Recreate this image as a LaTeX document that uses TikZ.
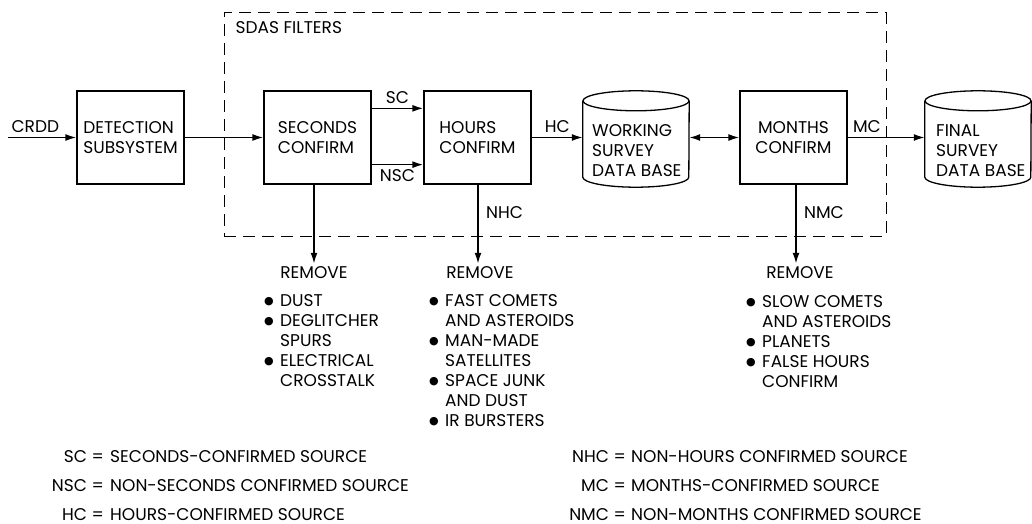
\documentclass[tikz,border=0pt]{standalone}
\usepackage{fontspec}
\setmainfont{Poppins}
\newfontfamily\symfont{DejaVu Sans}
\usetikzlibrary{arrows.meta, positioning}

\newcommand\lstbul{\makebox[16pt][l]{\raisebox{1.5pt}{\symfont\fontsize{11}{20}\selectfont ●}}}
\newcommand\lstind{\hspace*{16pt}}

\tikzset{
  blk/.style={draw, line width=1.3pt, minimum width=107pt, minimum height=93pt,
    align=left, inner sep=0pt},
  drum/.style={minimum width=106pt, minimum height=96pt, inner sep=0pt},
  frame/.style={draw, line width=1pt, dash pattern=on 12pt off 7pt,
    minimum width=662pt, minimum height=223pt},
  flow/.style={line width=1.6pt, -{Latex[length=11pt,width=7pt]}},
  flowboth/.style={line width=1.6pt, {Latex[length=11pt,width=7pt]}-{Latex[length=11pt,width=7pt]}},
  lbl/.style={inner sep=0pt},
  lst/.style={inner sep=0pt, align=left, anchor=north west},
}

\begin{document}
\begin{tikzpicture}[x=1pt, y=-1pt, every node/.style={font=\fontsize{17}{20}\selectfont}]
    \useasboundingbox (0,0) rectangle (1032,524);

    % filter frame
    \node[frame] (sdas) at (555,124.5) {};
    \node[lbl, anchor=north west] at ([xshift=12pt,yshift=-9pt]sdas.north west) {SDAS FILTERS};

    % blocks
    \node[blk] (det) at (130.5,137.5) {DETECTION\\SUBSYSTEM};
    \node[blk] (sec) at (317.5,137.5) {SECONDS\\CONFIRM};
    \node[blk] (hrs) at (477.5,137.5) {HOURS\\CONFIRM};
    \node[blk, align=center] (mon) at (793.5,137.5) {MONTHS\\CONFIRM};

    % data bases
    \node[drum] (wdb) at (636,139) {};
    \node[drum] (fdb) at (978,139) {};
    \foreach \db in {wdb,fdb} {
        \draw[line width=1.3pt] ([yshift=-10pt]\db.north) ellipse [x radius=53pt, y radius=10pt];
        \draw[line width=1.3pt] ([yshift=-10pt]\db.north west) -- ([yshift=10pt]\db.south west)
            arc[start angle=180, end angle=360, x radius=53pt, y radius=10pt]
            -- ([yshift=-10pt]\db.north east);
    }
    \node[lst, anchor=west] at (592,151) {WORKING\\SURVEY\\DATA BASE};
    \node[lst, anchor=west] at (936,151) {FINAL\\SURVEY\\DATA BASE};

    % main flow
    \coordinate (crdd) at (8,137.5);
    \draw[flow] (crdd) -- (det) node[pos=0.4, above=1pt] {CRDD};
    \draw[flow] (det) -- (sec);
    \draw[flow] ([yshift=-18pt]sec.north east) -- ([yshift=-18pt]hrs.north west) node[midway, above=1pt] {SC};
    \draw[flow] ([yshift=20pt]sec.south east) -- ([yshift=20pt]hrs.south west) node[midway, below=1pt] {NSC};
    \draw[flow] (hrs) -- (hrs.east -| wdb.west) node[midway, above=1pt] {HC};
    \draw[flowboth] (wdb.east |- mon.west) -- (mon.west);
    \draw[flow] (mon) -- (mon.east -| fdb.west) node[pos=0.25, above=1pt] {MC};

    % removed sources
    \node[lbl] (rm1) at (314,273) {REMOVE};
    \node[lbl] (rm2) at (480,273) {REMOVE};
    \node[lbl] (rm3) at (800,273) {REMOVE};
    \draw[flow] (sec.south -| rm1.north) -- ([yshift=3pt]rm1.north);
    \draw[flow] (hrs.south -| 478,0) -- ([yshift=3pt]rm2.north -| 478,0) node[pos=0.35, right=4pt] {NHC};
    \draw[flow] (mon.south -| 796,0) -- ([yshift=3pt]rm3.north -| 796,0) node[pos=0.35, right=4pt] {NMC};

    % lists
    \node[lst] (l1) at (264,294) {\lstbul DUST\\ \lstbul DEGLITCHER\\ \lstind SPURS\\
        \lstbul ELECTRICAL\\ \lstind CROSSTALK};
    \node[lst] (l2) at (429,294) {\lstbul FAST COMETS\\ \lstind AND ASTEROIDS\\ \lstbul MAN-MADE\\
        \lstind SATELLITES\\ \lstbul SPACE JUNK\\ \lstind AND DUST\\ \lstbul IR BURSTERS};
    \node[lst] (l3) at (746,295) {\lstbul SLOW COMETS\\ \lstind AND ASTEROIDS\\ \lstbul PLANETS\\
        \lstbul FALSE HOURS\\ \lstind CONFIRM};

    % legend
    \node[lbl, anchor=base east] at (104,462) {SC =};
    \node[lbl, anchor=base west] at (110,462) {SECONDS-CONFIRMED SOURCE};
    \node[lbl, anchor=base east] at (104,491) {NSC =};
    \node[lbl, anchor=base west] at (110,491) {NON-SECONDS CONFIRMED SOURCE};
    \node[lbl, anchor=base east] at (104,520) {HC =};
    \node[lbl, anchor=base west] at (110,520) {HOURS-CONFIRMED SOURCE};
    \node[lbl, anchor=base east] at (626,462) {NHC =};
    \node[lbl, anchor=base west] at (631,462) {NON-HOURS CONFIRMED SOURCE};
    \node[lbl, anchor=base east] at (626,491) {MC =};
    \node[lbl, anchor=base west] at (631,491) {MONTHS-CONFIRMED SOURCE};
    \node[lbl, anchor=base east] at (626,520) {NMC =};
    \node[lbl, anchor=base west] at (631,520) {NON-MONTHS CONFIRMED SOURCE};
\end{tikzpicture}
\end{document}
